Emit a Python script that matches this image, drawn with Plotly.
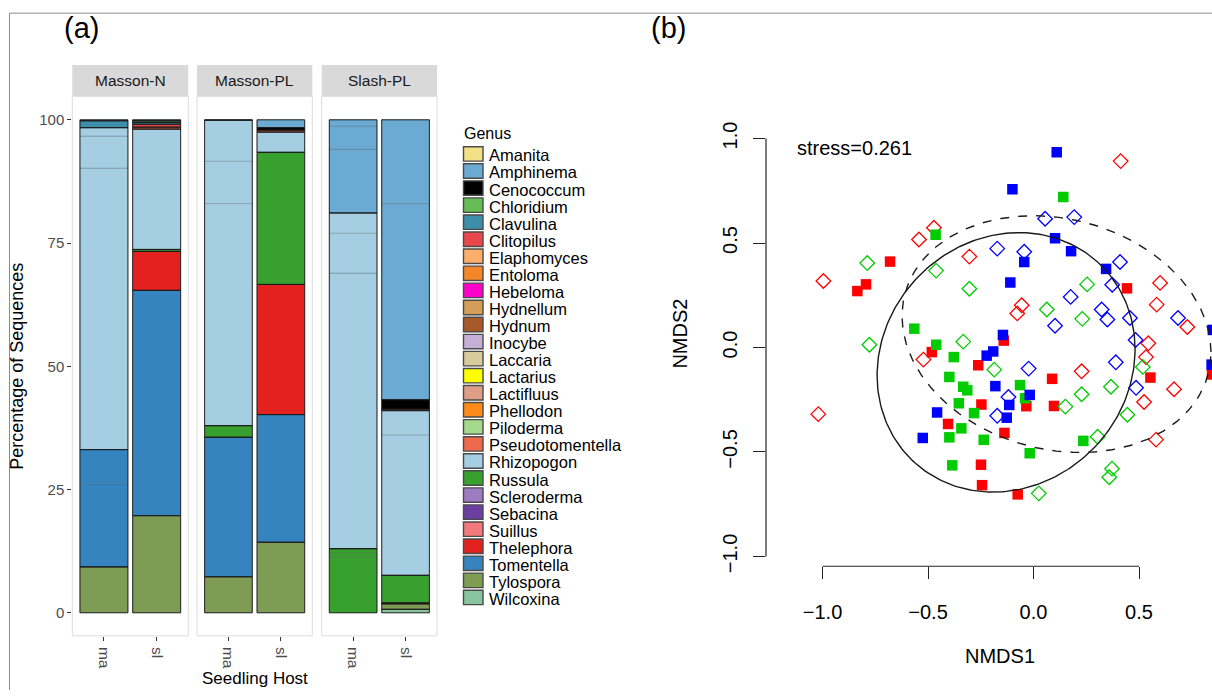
import numpy as np
import plotly.graph_objects as go

W, H = 1212, 697
FONT = "Liberation Sans, Arial, sans-serif"

# ---------------- Panel (a) data ----------------
genera = ["Amanita", "Amphinema", "Cenococcum", "Chloridium", "Clavulina", "Clitopilus",
          "Elaphomyces", "Entoloma", "Hebeloma", "Hydnellum", "Hydnum", "Inocybe",
          "Laccaria", "Lactarius", "Lactifluus", "Phellodon", "Piloderma",
          "Pseudotomentella", "Rhizopogon", "Russula", "Scleroderma", "Sebacina",
          "Suillus", "Thelephora", "Tomentella", "Tylospora", "Wilcoxina"]
genus_colors = ["#F2E086", "#6BAAD3", "#000000", "#66BC57", "#3D8EA8", "#E9474A",
                "#FDAE6B", "#F5872A", "#FF00CC", "#D49E58", "#A9582A", "#C5AFD6",
                "#D8CC9C", "#FFFF00", "#DE9E87", "#FF8A17", "#A5D98C",
                "#EE6A4C", "#A6CEE3", "#37A02F", "#9E7CC1", "#6B3FA0",
                "#F27A7D", "#E3221F", "#3584BF", "#7F9C55", "#88C59E"]

facets = ["Masson-N", "Masson-PL", "Slash-PL"]
hosts = ["ma", "sl"]

# segments bottom -> top : (genus, [sub-sample percentages])
masson_n_ma = [("Tylospora", [9.3]), ("Tomentella", [16.9, 6.9]),
               ("Rhizopogon", [57.1, 6.5, 1.7]), ("Clavulina", [1.4]), ("Amphinema", [0.2])]
masson_n_sl = [("Tylospora", [19.7]), ("Tomentella", [45.7]), ("Thelephora", [7.9]),
               ("Russula", [0.4]), ("Rhizopogon", [24.4]), ("Pseudotomentella", [0.4]),
               ("Clitopilus", [0.6]), ("Clavulina", [0.4]), ("Chloridium", [0.3]),
               ("Amphinema", [0.2])]
masson_pl_ma = [("Tylospora", [7.3]), ("Tomentella", [28.3]), ("Russula", [2.35]),
                ("Rhizopogon", [45.05, 8.6, 8.3]), ("Cenococcum", [0.1])]
masson_pl_sl = [("Tylospora", [14.3]), ("Tomentella", [25.9]), ("Thelephora", [26.4]),
                ("Russula", [26.8]), ("Rhizopogon", [4.1]), ("Pseudotomentella", [0.4]),
                ("Cenococcum", [0.5]), ("Amphinema", [1.6])]
slash_pl_ma = [("Russula", [11.4, 0.8, 0.8]), ("Rhizopogon", [55.9, 8.1, 4.1]),
               ("Amphinema", [12.9, 4.7, 1.3])]
slash_pl_sl = [("Wilcoxina", [0.7]), ("Tylospora", [1.1]), ("Thelephora", [0.2]),
               ("Russula", [5.6]), ("Rhizopogon", [28.5, 4.9]), ("Pseudotomentella", [0.3]),
               ("Cenococcum", [1.9]), ("Amphinema", [39.8, 17.0])]

bar_data = {
    "Masson-N": {"ma": masson_n_ma, "sl": masson_n_sl},
    "Masson-PL": {"ma": masson_pl_ma, "sl": masson_pl_sl},
    "Slash-PL": {"ma": slash_pl_ma, "sl": slash_pl_sl},
}
pct_ticks = [0, 25, 50, 75, 100]

# ---------------- Panel (b) data (NMDS scores) ----------------
red_sq_x = [-0.680, -0.794, -0.835, 0.443, -0.141, -0.482, -0.262, 0.088, 0.554,
            -0.034, 0.097, -0.247, -0.405, -0.138, -0.249, -0.244, -0.075, 0.846]
red_sq_y = [0.411, 0.302, 0.270, 0.283, 0.033, -0.022, -0.085, -0.150, -0.144,
            -0.281, -0.280, -0.273, -0.366, -0.409, -0.561, -0.659, -0.703, -0.129]
red_di_x = [0.413, -0.472, -0.543, -0.304, -0.996, 0.600, 0.584, -0.056, -0.077,
            0.729, 0.544, -0.522, 0.228, 0.533, 0.666, 0.524, 0.581, -1.020]
red_di_y = [0.892, 0.573, 0.517, 0.435, 0.318, 0.309, 0.205, 0.202, 0.163,
            0.098, 0.020, -0.058, -0.114, -0.046, -0.200, -0.261, -0.441, -0.319]
green_sq_x = [0.141, -0.464, -0.565, -0.461, -0.378, -0.399, -0.333, -0.314, -0.064,
              -0.040, -0.354, -0.282, -0.342, -0.399, -0.236, 0.236, -0.018, -0.385]
green_sq_y = [0.720, 0.539, 0.090, 0.013, -0.046, -0.141, -0.188, -0.205, -0.180,
              -0.243, -0.267, -0.314, -0.387, -0.430, -0.442, -0.447, -0.506, -0.564]
green_di_x = [-0.788, -0.462, -0.304, 0.254, 0.063, 0.231, -0.778, -0.333, -0.186,
              0.518, 0.367, 0.151, 0.228, 0.445, 0.304, 0.372, 0.359, 0.025]
green_di_y = [0.404, 0.368, 0.281, 0.302, 0.182, 0.137, 0.013, 0.028, -0.106,
              -0.093, -0.188, -0.283, -0.224, -0.322, -0.427, -0.580, -0.621, -0.698]
blue_sq_x = [0.110, -0.100, 0.102, 0.178, -0.044, 0.344, -0.110, -0.145, -0.222,
             -0.191, -0.181, -0.018, -0.115, -0.127, -0.457, -0.525, 0.844, 0.850]
blue_sq_y = [0.934, 0.757, 0.523, 0.461, 0.409, 0.376, 0.311, 0.060, -0.039,
             -0.019, -0.185, -0.227, -0.275, -0.336, -0.311, -0.433, -0.082, 0.084]
blue_di_x = [0.055, 0.193, -0.172, -0.044, 0.410, 0.373, 0.176, 0.323, 0.350,
             0.102, 0.457, 0.685, 0.484, -0.023, 0.390, 0.486, -0.119, -0.172]
blue_di_y = [0.616, 0.624, 0.473, 0.458, 0.409, 0.300, 0.242, 0.182, 0.134,
             0.104, 0.141, 0.141, 0.036, -0.101, -0.071, -0.193, -0.237, -0.327]

# group ellipses: centre and covariance (NMDS units)
solid_center = (-0.130, -0.071)
solid_cov = [[0.3738, 0.0382], [0.0382, 0.3855]]
dashed_center = (0.109, 0.064)
dashed_cov = [[0.5362, -0.0629], [-0.0629, 0.3207]]

stress_value = 0.261
nmds_x_ticks = [-1.0, -0.5, 0.0, 0.5]
nmds_y_ticks = [-1.0, -0.5, 0.0, 0.5, 1.0]


def fx(px):
    return px / W


def fy(py):
    return 1 - py / H


fig = go.Figure()
color_of = dict(zip(genera, genus_colors))

# ---------------- Panel (a) bars ----------------
axis_ids = ["", "2", "3"]
for fi, facet in enumerate(facets):
    xa, ya = "x" + axis_ids[fi], "y" + axis_ids[fi]
    fills = {}
    out_x, out_base, out_y = [], [], []
    for host in hosts:
        cum = 0.0
        for genus, parts in bar_data[facet][host]:
            gstart = cum
            for v in parts:
                d = fills.setdefault(genus, ([], [], []))
                d[0].append(host)
                d[1].append(cum)
                d[2].append(v)
                cum += v
            out_x.append(host)
            out_base.append(gstart)
            out_y.append(cum - gstart)
    for genus in genera:
        if genus not in fills:
            continue
        xs, bs, ys = fills[genus]
        fig.add_trace(go.Bar(x=xs, y=ys, base=bs, width=0.91, xaxis=xa, yaxis=ya,
                             marker=dict(color=color_of[genus],
                                         line=dict(color="rgba(0,0,0,0.22)", width=0.8)),
                             name=genus, showlegend=False, hoverinfo="skip"))
    fig.add_trace(go.Bar(x=out_x, y=out_y, base=out_base, width=0.91, xaxis=xa, yaxis=ya,
                         marker=dict(color="rgba(0,0,0,0)",
                                     line=dict(color="#1a1a1a", width=0.9)),
                         showlegend=False, hoverinfo="skip"))

facet_px = [(72.3, 188.3), (197.0, 312.3), (321.7, 437.0)]
panel_top, panel_bot = 97.3, 642.3
strip_top = 65.7
layout = {}
shapes = []
annotations = []
for fi, (l, r) in enumerate(facet_px):
    sfx = axis_ids[fi]
    layout["xaxis" + sfx] = dict(
        domain=[fx(l), fx(r)], anchor="y" + sfx, type="category",
        categoryorder="array", categoryarray=hosts, range=[-0.6, 1.6],
        showgrid=False, zeroline=False, showline=False,
        ticks="outside", ticklen=4, tickcolor="#333333", tickwidth=1,
        ticklabelstandoff=3,
        tickangle=90, tickfont=dict(size=15.5, color="#4D4D4D", family=FONT))
    layout["yaxis" + sfx] = dict(
        domain=[fy(panel_bot), fy(panel_top)], anchor="x" + sfx,
        range=[-4.68, 104.76], showgrid=False, zeroline=False, showline=False,
        tickvals=pct_ticks, ticks="outside" if fi == 0 else "",
        showticklabels=(fi == 0), ticklen=4, tickcolor="#333333",
        tickfont=dict(size=15, color="#4D4D4D", family=FONT))
    shapes.append(dict(type="rect", xref="paper", yref="paper",
                       x0=fx(l), x1=fx(r), y0=fy(panel_bot), y1=fy(panel_top),
                       line=dict(color="#DCDCDC", width=1), layer="above"))
    shapes.append(dict(type="rect", xref="paper", yref="paper",
                       x0=fx(l), x1=fx(r), y0=fy(panel_top), y1=fy(strip_top),
                       fillcolor="#D9D9D9", line=dict(width=0), layer="below"))
    annotations.append(dict(text=facets[fi], xref="paper", yref="paper",
                            x=fx((l + r) / 2), y=fy((strip_top + panel_top) / 2),
                            xanchor="center", yanchor="middle", showarrow=False,
                            font=dict(size=15.5, color="#1A1A1A", family=FONT)))

annotations.append(dict(text="Percentage of Sequences", xref="paper", yref="paper",
                        x=fx(17.5), y=fy(370), xanchor="center", yanchor="middle",
                        textangle=-90, showarrow=False,
                        font=dict(size=18, color="black", family=FONT)))
annotations.append(dict(text="Seedling Host", xref="paper", yref="paper",
                        x=fx(254.7), y=0.0, xanchor="center", yanchor="bottom",
                        showarrow=False, font=dict(size=17, color="black", family=FONT)))

# legend (Genus)
annotations.append(dict(text="Genus", xref="paper", yref="paper", x=fx(462), y=fy(135),
                        xanchor="left", yanchor="middle", showarrow=False,
                        font=dict(size=16, color="black", family=FONT)))
leg_y0, leg_dy = 155.5, 17.23
for i, g in enumerate(genera):
    cy = leg_y0 + i * leg_dy
    shapes.append(dict(type="rect", xref="paper", yref="paper",
                       x0=fx(463.5), x1=fx(483), y0=fy(cy + 7.3), y1=fy(cy - 7.3),
                       fillcolor=color_of[g], line=dict(color="#4a4a4a", width=1.4)))
    annotations.append(dict(text=g, xref="paper", yref="paper", x=fx(486.5),
                            y=fy(cy + 1.5),
                            xanchor="left", yanchor="middle", showarrow=False,
                            font=dict(size=16.5, color="black", family=FONT)))

# ---------------- Panel (b) NMDS ----------------
groups = [
    (red_sq_x, red_sq_y, "square", "#FF0000"),
    (red_di_x, red_di_y, "diamond-open", "#FF0000"),
    (green_sq_x, green_sq_y, "square", "#00CC00"),
    (green_di_x, green_di_y, "diamond-open", "#00CC00"),
    (blue_sq_x, blue_sq_y, "square", "#0000FF"),
    (blue_di_x, blue_di_y, "diamond-open", "#0000FF"),
]
for gx, gy, sym, col in groups:
    if sym == "square":
        mk = dict(symbol=sym, size=10.5, color=col, line=dict(width=0))
    else:
        mk = dict(symbol=sym, size=11.2, color=col, line=dict(width=1.3, color=col))
    fig.add_trace(go.Scatter(x=gx, y=gy, mode="markers", marker=mk, xaxis="x4",
                             yaxis="y4", showlegend=False, hoverinfo="skip"))

t = np.linspace(0, 2 * np.pi, 241)
for center, cov, dash in [(solid_center, solid_cov, "solid"),
                          (dashed_center, dashed_cov, "dash")]:
    L = np.linalg.cholesky(np.array(cov))
    pts = L @ np.vstack([np.cos(t), np.sin(t)])
    fig.add_trace(go.Scatter(x=center[0] + pts[0], y=center[1] + pts[1], mode="lines",
                             line=dict(color="#1a1a1a", width=1.4, dash=dash),
                             xaxis="x4", yaxis="y4", showlegend=False, hoverinfo="skip"))

b_left, b_bottom, b_top = 766.0, 572.0, 103.0
fmt = lambda v: ("\u2212" if v < 0 else "") + f"{abs(v):.1f}"
layout["xaxis4"] = dict(domain=[fx(b_left), 1.0], anchor="y4", range=[-1.268, 0.846],
                        showgrid=False, zeroline=False, showline=False,
                        tickvals=nmds_x_ticks, ticktext=[fmt(v) for v in nmds_x_ticks],
                        ticks="outside", ticklen=12, tickcolor="#222222", tickwidth=1.2,
                        ticklabelstandoff=16,
                        tickfont=dict(size=20, color="black", family=FONT))
layout["yaxis4"] = dict(domain=[fy(b_bottom), fy(b_top)], anchor="x4",
                        range=[-1.047, 1.175], showgrid=False, zeroline=False,
                        showline=False, tickvals=nmds_y_ticks,
                        ticktext=[fmt(v) for v in nmds_y_ticks], tickangle=-90,
                        ticks="outside", ticklen=12, tickcolor="#222222", tickwidth=1.2,
                        ticklabelstandoff=8,
                        tickfont=dict(size=20, color="black", family=FONT))
# axis lines (span first to last tick, base-graphics style)
shapes.append(dict(type="line", xref="x4", yref="paper", x0=nmds_x_ticks[0],
                   x1=nmds_x_ticks[-1], y0=fy(b_bottom), y1=fy(b_bottom),
                   line=dict(color="#222222", width=1.2)))
shapes.append(dict(type="line", xref="paper", yref="y4", x0=fx(b_left), x1=fx(b_left),
                   y0=nmds_y_ticks[0], y1=nmds_y_ticks[-1],
                   line=dict(color="#222222", width=1.2)))
annotations.append(dict(text=f"stress={stress_value}", xref="x4", yref="y4", x=-1.13,
                        y=0.953, xanchor="left", yanchor="middle", showarrow=False,
                        font=dict(size=20, color="black", family=FONT)))
annotations.append(dict(text="NMDS1", xref="paper", yref="paper", x=fx(1000), y=fy(663),
                        xanchor="center", yanchor="middle", showarrow=False,
                        font=dict(size=20, color="black", family=FONT)))
annotations.append(dict(text="NMDS2", xref="paper", yref="paper", x=fx(680), y=fy(337),
                        xanchor="center", yanchor="middle", textangle=-90,
                        showarrow=False, font=dict(size=20, color="black", family=FONT)))

# panel letters and frame
annotations.append(dict(text="(a)", xref="paper", yref="paper", x=fx(81), y=fy(28),
                        xanchor="center", yanchor="middle", showarrow=False,
                        font=dict(size=29, color="black", family=FONT)))
annotations.append(dict(text="(b)", xref="paper", yref="paper", x=fx(668), y=fy(28),
                        xanchor="center", yanchor="middle", showarrow=False,
                        font=dict(size=29, color="black", family=FONT)))
shapes.append(dict(type="line", xref="paper", yref="paper", x0=fx(9.5), x1=1.0,
                   y0=fy(13.3), y1=fy(13.3), line=dict(color="#8C8C8C", width=1)))
shapes.append(dict(type="line", xref="paper", yref="paper", x0=fx(9.5), x1=fx(9.5),
                   y0=fy(13.3), y1=0.0, line=dict(color="#8C8C8C", width=1)))

fig.update_layout(width=W, height=H, margin=dict(l=0, r=0, t=0, b=0),
                  paper_bgcolor="white", plot_bgcolor="white", barmode="overlay",
                  showlegend=False, font=dict(family=FONT),
                  shapes=shapes, annotations=annotations, **layout)
fig.write_html("out.html")
